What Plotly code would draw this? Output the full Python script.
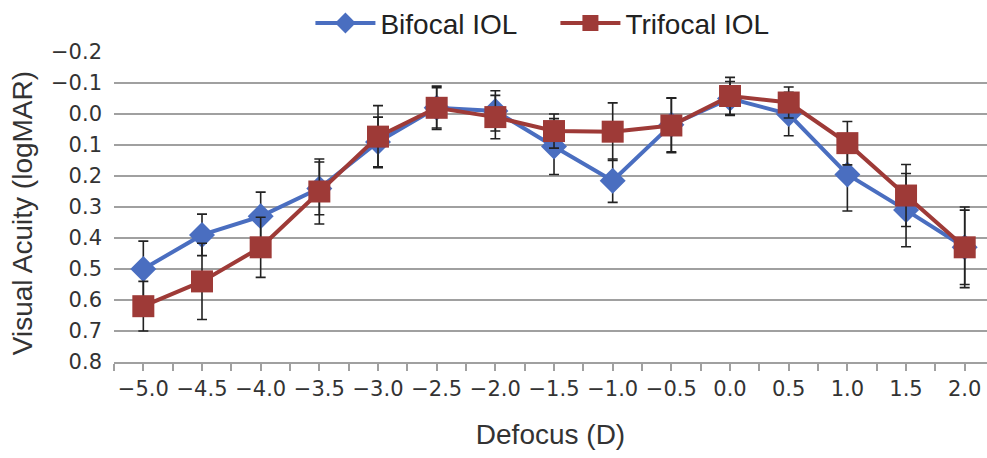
import plotly.graph_objects as go

defocus = [-5.0, -4.5, -4.0, -3.5, -3.0, -2.5, -2.0, -1.5, -1.0, -0.5, 0.0, 0.5, 1.0, 1.5, 2.0]
x_labels = ["−5.0", "−4.5", "−4.0", "−3.5", "−3.0", "−2.5", "−2.0", "−1.5", "−1.0", "−0.5",
            "0.0", "0.5", "1.0", "1.5", "2.0"]
bifocal = [0.50, 0.39, 0.33, 0.24, 0.09, -0.02, -0.01, 0.105, 0.215, 0.035, -0.05, 0.0, 0.195, 0.31, 0.43]
bifocal_err = [0.09, 0.067, 0.078, 0.085, 0.08, 0.065, 0.065, 0.09, 0.07, 0.087, 0.055, 0.07, 0.118, 0.118, 0.13]
trifocal = [0.62, 0.54, 0.43, 0.25, 0.073, -0.02, 0.01, 0.055, 0.057, 0.037, -0.058, -0.037, 0.094, 0.263, 0.43]
trifocal_err = [0.08, 0.123, 0.097, 0.105, 0.10, 0.07, 0.07, 0.055, 0.093, 0.088, 0.06, 0.05, 0.07, 0.10, 0.12]
y_ticks = [-0.2, -0.1, 0.0, 0.1, 0.2, 0.3, 0.4, 0.5, 0.6, 0.7, 0.8]
y_labels = ["−0.2", "−0.1", "0.0", "0.1", "0.2", "0.3", "0.4", "0.5", "0.6", "0.7", "0.8"]
x_title = "Defocus (D)"
y_title = "Visual Acuity (logMAR)"

BLUE = "#4A6EC0"
RED = "#9E3A37"
GRID = "#A0A0A0"
TICKFONT = dict(family="DejaVu Sans, sans-serif", size=21, color="#333333")
TITLEFONT = dict(family="Liberation Sans, Arial, sans-serif", size=28, color="#333333")

fig = go.Figure()
fig.add_trace(go.Scatter(
    x=defocus, y=bifocal, name="Bifocal IOL", mode="lines+markers",
    line=dict(color=BLUE, width=4),
    marker=dict(symbol="diamond", size=20, color=BLUE),
    error_y=dict(type="data", array=bifocal_err, color="#222222", thickness=1.6, width=5),
))
fig.add_trace(go.Scatter(
    x=defocus, y=trifocal, name="Trifocal IOL", mode="lines+markers",
    line=dict(color=RED, width=4),
    marker=dict(symbol="square", size=22, color=RED),
    error_y=dict(type="data", array=trifocal_err, color="#222222", thickness=1.6, width=5),
))

fig.update_layout(
    width=987, height=458,
    margin=dict(l=114, r=0, t=52, b=96, autoexpand=False),
    paper_bgcolor="white", plot_bgcolor="white",
    showlegend=True,
    legend=dict(orientation="h", x=0.225, xanchor="left", y=1.012, yanchor="bottom",
                font=dict(family="Liberation Sans, Arial, sans-serif", size=28, color="#222222"),
                itemwidth=60, entrywidth=170, entrywidthmode="pixels", traceorder="normal"),
    xaxis=dict(
        range=[-5.25, 2.19], tickvals=defocus, ticktext=x_labels,
        showgrid=False, zeroline=False,
        showline=True, linecolor=GRID, linewidth=2,
        ticks="outside", ticklen=7, tickcolor=GRID, tickwidth=2,
        minor=dict(ticks="outside", dtick=0.25, tick0=-5.25, ticklen=7, tickcolor=GRID, tickwidth=2),
        tickfont=TICKFONT,
        title=dict(text=x_title, font=TITLEFONT, standoff=24),
    ),
    yaxis=dict(
        range=[0.8, -0.2], tickvals=y_ticks, ticktext=y_labels,
        showgrid=True, gridcolor=GRID, gridwidth=2,
        zeroline=False, showline=False, ticks="",
        ticklabelstandoff=11,
        tickfont=TICKFONT,
    ),
    annotations=[dict(
        text=y_title, xref="paper", yref="paper", x=-0.1054, y=0.48,
        xanchor="center", yanchor="middle", textangle=-90, showarrow=False,
        font=TITLEFONT,
    )],
)

fig.write_html("out.html", config={"displayModeBar": False},
               post_script="document.body.style.margin='0';document.body.style.overflow='hidden';")
